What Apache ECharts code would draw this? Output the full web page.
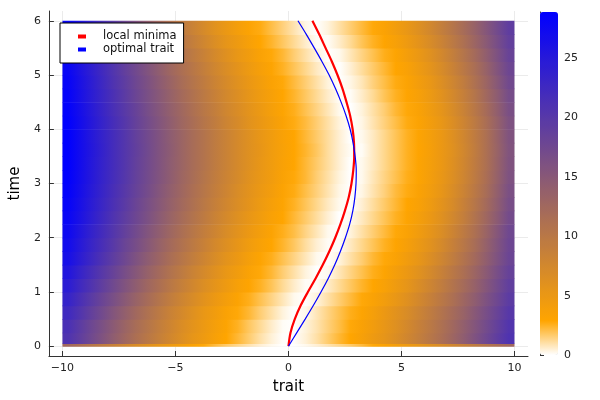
<!DOCTYPE html>
<html>
<head>
<meta charset="utf-8">
<script src="https://cdn.jsdelivr.net/npm/echarts@6/dist/echarts.min.js"></script>
<style>html,body{margin:0;padding:0;background:#fff}#c{width:600px;height:400px}</style>
</head>
<body>
<div id="c"></div>
<script>
// ---- data ----
const traitEdges = [-10,-9.5,-9,-8.5,-8,-7.5,-7,-6.5,-6,-5.5,-5,-4.5,-4,-3.5,-3,-2.5,-2,-1.5,-1,-0.5,0,0.5,1,1.5,2,2.5,3,3.5,4,4.5,5,5.5,6,6.5,7,7.5,8,8.5,9,9.5,10];
const timeEdges = [0,0.05,0.25,0.5,0.75,1,1.25,1.5,1.75,2,2.25,2.5,2.75,3,3.25,3.5,3.75,4,4.25,4.5,4.75,5,5.25,5.5,5.75,6];
// one row per time band (bottom to top), one value per trait cell (left to right)
const landscapeRows = [
[12.5,11.5,10.5,9.5,8.6,7.7,6.8,6.1,5.3,4.6,4.0,3.3,2.8,2.2,1.7,1.3,0.9,0.5,0.2,0.0,0.0,0.2,0.5,0.9,1.3,1.7,2.2,2.8,3.3,4.0,4.6,5.3,6.1,6.8,7.7,8.6,9.5,10.5,11.5,12.5],
[20.9,19.2,17.5,15.9,14.3,12.8,11.4,10.1,8.9,7.7,6.6,5.5,4.6,3.7,2.9,2.3,1.65,1.0,0.45,0.05,0.05,0.45,1.0,1.65,2.3,2.9,3.7,4.6,5.5,6.6,7.7,8.9,10.1,11.4,12.8,14.3,15.9,17.5,19.2,20.9],
[21.4,19.6,17.9,16.3,14.7,13.2,11.8,10.5,9.2,8.0,6.8,5.8,4.8,3.9,3.1,2.5,1.8,1.2,0.6,0.1,0.0,0.4,0.9,1.5,2.1,2.8,3.5,4.3,5.3,6.3,7.4,8.6,9.8,11.1,12.5,14.0,15.5,17.1,18.8,20.5],
[22.5,20.7,18.9,17.2,15.5,14.0,12.5,11.1,9.8,8.5,7.4,6.3,5.2,4.3,3.4,2.8,2.3,1.6,1.0,0.4,0.0,0.2,0.8,1.4,2.0,2.6,3.1,3.9,4.9,5.9,6.9,8.1,9.3,10.6,12.0,13.4,15.0,16.6,18.3,20.0],
[23.5,21.6,19.8,18.1,16.5,14.9,13.4,12.0,10.6,9.3,8.1,7.0,5.9,4.9,4.0,3.2,2.6,2.0,1.4,0.8,0.2,0.0,0.4,1.0,1.6,2.2,2.8,3.4,4.2,5.2,6.2,7.4,8.6,9.9,11.3,12.8,14.3,16.0,17.7,19.5],
[24.5,22.6,20.8,19.1,17.4,15.8,14.3,12.8,11.5,10.1,8.9,7.7,6.6,5.6,4.6,3.7,3.0,2.5,1.9,1.2,0.6,0.1,0.1,0.6,1.2,1.8,2.4,2.9,3.6,4.5,5.5,6.7,7.9,9.2,10.6,12.1,13.6,15.3,17.1,19.0],
[25.5,23.6,21.8,20.0,18.4,16.7,15.2,13.7,12.3,10.9,9.7,8.4,7.3,6.2,5.2,4.3,3.4,2.8,2.3,1.6,1.0,0.4,0.0,0.2,0.8,1.4,2.0,2.6,3.1,4.0,4.9,6.0,7.2,8.5,9.9,11.4,13.0,14.7,16.6,18.5],
[26.5,24.6,22.8,21.0,19.3,17.6,16.0,14.5,13.1,11.7,10.4,9.2,8.0,6.9,5.8,4.9,3.9,3.1,2.6,2.0,1.4,0.8,0.2,0.0,0.4,1.0,1.6,2.3,2.8,3.4,4.3,5.3,6.5,7.8,9.2,10.7,12.3,14.1,16.0,18.0],
[27.0,25.1,23.3,21.6,19.9,18.2,16.7,15.2,13.7,12.3,11.0,9.8,8.6,7.4,6.4,5.4,4.4,3.6,2.9,2.4,1.8,1.1,0.5,0.1,0.1,0.7,1.3,1.9,2.5,3.0,3.8,4.8,5.9,7.2,8.6,10.1,11.8,13.7,15.7,17.8],
[27.5,25.6,23.8,22.1,20.4,18.8,17.2,15.7,14.3,12.9,11.6,10.3,9.1,8.0,6.9,5.9,4.9,4.0,3.2,2.6,2.1,1.4,0.8,0.2,0.0,0.4,1.0,1.6,2.2,2.8,3.4,4.3,5.4,6.6,8.0,9.6,11.3,13.2,15.3,17.5],
[28.0,26.2,24.4,22.6,20.9,19.3,17.8,16.3,14.8,13.4,12.1,10.8,9.6,8.4,7.3,6.3,5.3,4.4,3.5,2.9,2.3,1.7,1.1,0.5,0.0,0.2,0.7,1.3,1.9,2.5,3.1,3.9,4.9,6.1,7.5,9.0,10.8,12.7,14.7,17.0],
[28.3,26.5,24.7,23.0,21.3,19.7,18.1,16.6,15.2,13.8,12.5,11.2,10.0,8.8,7.7,6.7,5.7,4.7,3.8,3.1,2.5,1.9,1.3,0.7,0.2,0.0,0.5,1.1,1.7,2.3,2.9,3.5,4.5,5.7,7.0,8.6,10.3,12.2,14.3,16.6],
[28.6,26.8,25.0,23.3,21.6,20.0,18.5,17.0,15.5,14.1,12.8,11.5,10.3,9.1,8.0,6.9,5.9,5.0,4.1,3.2,2.7,2.1,1.5,0.9,0.3,0.0,0.3,0.9,1.5,2.2,2.7,3.3,4.2,5.3,6.7,8.2,9.9,11.8,14.0,16.3],
[28.8,27.0,25.2,23.5,21.9,20.3,18.7,17.2,15.8,14.4,13.0,11.8,10.5,9.3,8.2,7.2,6.1,5.2,4.3,3.4,2.8,2.3,1.6,1.0,0.4,0.0,0.2,0.8,1.4,2.0,2.6,3.1,4.0,5.1,6.4,7.9,9.6,11.5,13.7,16.0],
[28.9,27.1,25.3,23.6,22.0,20.4,18.8,17.3,15.9,14.5,13.2,11.9,10.7,9.5,8.4,7.3,6.3,5.3,4.4,3.5,2.9,2.3,1.7,1.1,0.5,0.0,0.2,0.7,1.3,1.9,2.5,3.1,3.9,4.9,6.2,7.7,9.4,11.3,13.5,15.8],
[28.9,27.1,25.4,23.7,22.0,20.4,18.9,17.4,15.9,14.6,13.2,11.9,10.7,9.5,8.4,7.3,6.3,5.4,4.4,3.6,2.9,2.4,1.8,1.1,0.5,0.1,0.1,0.7,1.3,1.9,2.5,3.0,3.8,4.9,6.1,7.6,9.3,11.2,13.4,15.7],
[28.9,27.1,25.3,23.6,22.0,20.4,18.8,17.3,15.9,14.5,13.2,11.9,10.7,9.5,8.4,7.3,6.3,5.3,4.4,3.5,2.9,2.3,1.7,1.1,0.5,0.0,0.2,0.7,1.3,1.9,2.5,3.1,3.9,4.9,6.2,7.7,9.4,11.3,13.5,15.8],
[28.8,27.0,25.2,23.5,21.8,20.2,18.6,17.1,15.7,14.3,12.9,11.7,10.4,9.3,8.1,7.1,6.0,5.1,4.2,3.3,2.7,2.2,1.6,1.0,0.4,0.0,0.3,0.9,1.5,2.1,2.7,3.2,4.1,5.2,6.5,8.0,9.7,11.6,13.7,16.0],
[28.6,26.8,25.0,23.2,21.5,19.9,18.4,16.8,15.4,14.0,12.7,11.4,10.1,9.0,7.8,6.8,5.8,4.8,3.9,3.1,2.6,2.0,1.4,0.8,0.2,0.0,0.4,1.0,1.6,2.3,2.8,3.4,4.4,5.5,6.9,8.4,10.1,12.0,14.1,16.4],
[28.4,26.5,24.7,23.0,21.3,19.6,18.0,16.5,15.1,13.7,12.3,11.0,9.8,8.6,7.5,6.5,5.5,4.5,3.7,2.9,2.4,1.8,1.2,0.6,0.1,0.1,0.6,1.2,1.9,2.5,3.0,3.7,4.7,5.9,7.3,8.8,10.5,12.5,14.5,16.8],
[28.2,26.3,24.5,22.7,20.9,19.3,17.7,16.2,14.7,13.3,11.9,10.6,9.4,8.2,7.1,6.1,5.1,4.2,3.3,2.8,2.2,1.6,1.0,0.4,0.0,0.3,0.8,1.5,2.1,2.7,3.2,4.1,5.1,6.4,7.8,9.3,11.1,13.0,15.1,17.3],
[28.0,26.0,24.2,22.4,20.6,18.9,17.3,15.8,14.3,12.8,11.5,10.2,9.0,7.8,6.7,5.7,4.7,3.8,3.1,2.5,1.9,1.3,0.7,0.2,0.0,0.5,1.1,1.7,2.3,2.9,3.5,4.5,5.6,6.9,8.3,9.9,11.6,13.5,15.6,17.8],
[28.0,26.0,24.0,22.1,20.3,18.6,16.9,15.3,13.8,12.4,11.0,9.7,8.5,7.3,6.2,5.2,4.3,3.4,2.8,2.3,1.6,1.0,0.4,0.0,0.2,0.8,1.4,2.0,2.6,3.1,4.0,5.0,6.1,7.4,8.9,10.5,12.2,14.1,16.1,18.3],
[28.0,25.9,23.8,21.8,19.9,18.1,16.4,14.7,13.2,11.7,10.3,9.0,7.8,6.6,5.5,4.6,3.7,2.9,2.4,1.8,1.2,0.6,0.1,0.1,0.6,1.2,1.9,2.5,3.0,3.7,4.6,5.7,6.9,8.2,9.7,11.3,13.0,14.8,16.7,18.8],
[28.0,25.8,23.6,21.5,19.6,17.7,15.9,14.2,12.6,11.1,9.7,8.4,7.2,6.0,5.0,4.0,3.2,2.7,2.1,1.5,0.9,0.3,0.0,0.4,1.0,1.6,2.2,2.8,3.3,4.2,5.2,6.3,7.5,8.9,10.3,11.9,13.5,15.3,17.2,19.2]
];
const curveTime = [0,0.25,0.5,0.75,1,1.25,1.5,1.75,2,2.25,2.5,2.75,3,3.25,3.5,3.75,4,4.25,4.5,4.75,5,5.25,5.5,5.75,6];
const minimaTrait = [0,0.09,0.28,0.54,0.86,1.2,1.52,1.81,2.07,2.3,2.5,2.67,2.79,2.87,2.91,2.9,2.84,2.73,2.57,2.39,2.17,1.92,1.64,1.36,1.06];
const optimumTrait = [0,0.37,0.74,1.1,1.44,1.76,2.05,2.3,2.52,2.71,2.85,2.94,2.99,3.0,2.95,2.86,2.73,2.55,2.33,2.08,1.8,1.48,1.14,0.79,0.42];
const traitTicks = [-10,-5,0,5,10];
const timeTicks = [0,1,2,3,4,5,6];
const colorMax = 28.9;
const seriesNames = ['local minima','optimal trait'];

// ---- colour scale (white -> orange -> blue) ----
const cmap = ['#ffffff','#ffa500','#e3931c','#c68039','#aa6e55','#8e5c71','#71498e','#5537aa','#3925c6','#1c12e3','#0000ff'];
const cmapRGB = cmap.map(h => [parseInt(h.slice(1,3),16), parseInt(h.slice(3,5),16), parseInt(h.slice(5,7),16)]);
function valueColor(v) {
  const s = Math.max(0, Math.min(1, v / colorMax)) * (cmap.length - 1);
  const i = Math.min(cmap.length - 2, Math.floor(s));
  const f = s - i;
  const a = cmapRGB[i], b = cmapRGB[i + 1];
  return 'rgb(' + [0,1,2].map(k => Math.round(a[k] + (b[k] - a[k]) * f)).join(',') + ')';
}

// ---- build ----
const nCols = traitEdges.length - 1;
const xLo = traitEdges[0], xHi = traitEdges[nCols];
const bands = landscapeRows.map((row, j) => [xLo, xHi, timeEdges[j], timeEdges[j + 1], j]);
const minimaLine = curveTime.map((t, k) => [minimaTrait[k], t]);
const optimumLine = curveTime.map((t, k) => [optimumTrait[k], t]);

const FONT = 'DejaVu Sans';
const fmtMinus = v => (v < 0 ? '\u2212' + Math.abs(v) : String(v));

const chart = echarts.init(document.getElementById('c'), null, {renderer: 'canvas'});
chart.setOption({
  animation: false,
  backgroundColor: '#ffffff',
  textStyle: {fontFamily: FONT},
  grid: [
    {left: 43, top: 11, width: 485, height: 345, containLabel: false},
    {left: 540, top: 12, width: 18, height: 343, containLabel: false}
  ],
  xAxis: [
    {
      type: 'value', gridIndex: 0, min: -10.6, max: 10.6,
      name: 'trait', nameLocation: 'middle', nameGap: 24,
      nameTextStyle: {fontSize: 15, color: '#000', fontFamily: FONT},
      axisLine: {show: true, onZero: false, lineStyle: {color: '#333', width: 1}},
      axisTick: {show: true, inside: true, length: 5, customValues: traitTicks, lineStyle: {color: '#333'}},
      axisLabel: {show: true, customValues: traitTicks, margin: 7, fontSize: 11, color: '#222', fontFamily: FONT, formatter: fmtMinus},
      splitLine: {show: true, lineStyle: {color: '#ebebeb', width: 1}}
    },
    {type: 'value', gridIndex: 1, min: 0, max: 1, show: false}
  ],
  yAxis: [
    {
      type: 'value', gridIndex: 0, min: -0.18, max: 6.18,
      name: 'time', nameLocation: 'middle', nameGap: 23,
      nameTextStyle: {fontSize: 15, color: '#000', fontFamily: FONT},
      axisLine: {show: true, onZero: false, lineStyle: {color: '#333', width: 1}},
      axisTick: {show: true, inside: true, length: 5, customValues: timeTicks, lineStyle: {color: '#333'}},
      axisLabel: {show: true, customValues: timeTicks, margin: 8, fontSize: 11, color: '#222', fontFamily: FONT},
      splitLine: {show: true, lineStyle: {color: '#ebebeb', width: 1}}
    },
    {
      type: 'value', gridIndex: 1, min: 0, max: colorMax, interval: 5, position: 'right',
      axisLine: {show: true, lineStyle: {color: '#333', width: 1}},
      axisTick: {show: true, inside: false, length: 4, lineStyle: {color: '#333'}},
      axisLabel: {show: true, margin: 6, fontSize: 11, color: '#222', fontFamily: FONT, showMaxLabel: false},
      splitLine: {show: false}
    }
  ],
  visualMap: {
    type: 'continuous', min: 0, max: colorMax, dimension: 4, seriesIndex: 0,
    calculable: false, hoverLink: false, realtime: false,
    orient: 'vertical', left: 540, top: 12, itemWidth: 18, itemHeight: 343, padding: 0,
    inRange: {color: cmap}
  },
  legend: {
    data: seriesNames, orient: 'vertical', left: 60, top: 23,
    icon: 'rect', itemWidth: 8, itemHeight: 4, itemGap: 0,
    padding: [7, 7, 7, 18], selectedMode: false,
    backgroundColor: '#ffffff', borderColor: '#000', borderWidth: 1, borderRadius: 0,
    textStyle: {fontSize: 11.5, color: '#111', fontFamily: FONT, lineHeight: 13, padding: [0, 0, 0, 12]}
  },
  series: [
    {
      type: 'custom', name: 'landscape', xAxisIndex: 0, yAxisIndex: 0, silent: true,
      encode: {x: [0, 1], y: [2, 3]}, clip: true,
      renderItem: function (params, api) {
        const j = api.value(4);
        const row = landscapeRows[j];
        const a = api.coord([api.value(0), api.value(3)]);
        const b = api.coord([api.value(1), api.value(2)]);
        const stops = row.map((v, i) => {
          const xc = (traitEdges[i] + traitEdges[i + 1]) / 2;
          return {offset: (xc - xLo) / (xHi - xLo), color: valueColor(v)};
        });
        return {
          type: 'rect',
          shape: {x: a[0], y: a[1], width: b[0] - a[0], height: b[1] - a[1] + 0.6},
          style: {fill: {type: 'linear', x: a[0], y: 0, x2: b[0], y2: 0, global: true, colorStops: stops}}
        };
      },
      data: bands
    },
    {
      type: 'line', name: seriesNames[0], xAxisIndex: 0, yAxisIndex: 0, data: minimaLine,
      showSymbol: false, smooth: 0.3, lineStyle: {color: '#ff0000', width: 2.2}, itemStyle: {color: '#ff0000'}, z: 5
    },
    {
      type: 'line', name: seriesNames[1], xAxisIndex: 0, yAxisIndex: 0, data: optimumLine,
      showSymbol: false, smooth: 0.3, lineStyle: {color: '#0000ff', width: 1.2}, itemStyle: {color: '#0000ff'}, z: 5
    }
  ]
});
</script>
</body>
</html>
